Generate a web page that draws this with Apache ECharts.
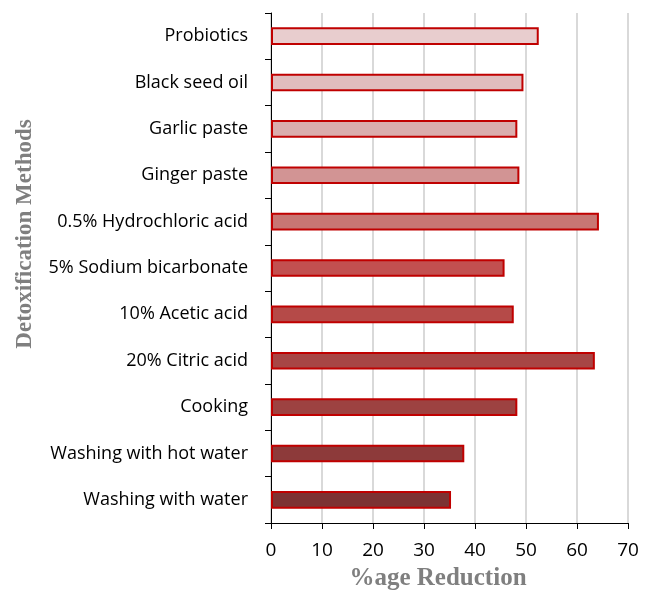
<!DOCTYPE html>
<html>
<head>
<meta charset="utf-8">
<script src="https://cdn.jsdelivr.net/npm/echarts@6/dist/echarts.min.js"></script>
<style>
  html, body { margin: 0; padding: 0; background: #fff; }
  #chart { width: 648px; height: 596px; }
</style>
</head>
<body>
<div id="chart"></div>
<script>
// categories listed bottom -> top (category axis starts at the bottom)
var methods = ['Washing with water', 'Washing with hot water', 'Cooking', '20% Citric acid',
  '10% Acetic acid', '5% Sodium bicarbonate', '0.5% Hydrochloric acid', 'Ginger paste',
  'Garlic paste', 'Black seed oil', 'Probiotics']
var reduction = [35.3, 37.9, 48.3, 63.5, 47.6, 45.8, 64.3, 48.7, 48.3, 49.5, 52.5]
var barColors = ['#7C3233', '#8D3A3A', '#9D4241', '#A74645', '#B54A48', '#C25050',
  '#C87673', '#D29494', '#DAADAD', '#E0BDBE', '#E8CDCE']
var xTicks = [0, 10, 20, 30, 40, 50, 60, 70]

var titleFont = { fontFamily: 'Liberation Serif', fontWeight: 'bold', fill: '#7F7F7F' }

var chart = echarts.init(document.getElementById('chart'))
var option = {
  animation: false,
  grid: { left: 271, right: 20, top: 13, bottom: 73 },
  graphic: [
    {
      type: 'text', x: 438, y: 579,
      style: Object.assign({ text: '%age Reduction', fontSize: 25, align: 'center', verticalAlign: 'middle' }, titleFont)
    },
    {
      type: 'text', x: 25, y: 234, rotation: Math.PI / 2,
      style: Object.assign({ text: 'Detoxification Methods', fontSize: 23, align: 'center', verticalAlign: 'middle' }, titleFont)
    }
  ],
  xAxis: {
    type: 'value',
    min: xTicks[0],
    max: xTicks[xTicks.length - 1],
    interval: 10,
    axisLine: { show: true, lineStyle: { color: '#000', width: 1 } },
    axisTick: { show: true, length: 6, lineStyle: { color: '#000' } },
    axisLabel: { color: '#000', fontSize: 19, fontFamily: 'Open Sans', margin: 18 },
    splitLine: { show: true, lineStyle: { color: '#D9D9D9', width: 2 } }
  },
  yAxis: {
    type: 'category',
    data: methods,
    axisLine: { show: true, lineStyle: { color: '#000', width: 1 } },
    axisTick: { show: true, length: 6, lineStyle: { color: '#000' } },
    axisLabel: { color: '#000', fontSize: 18, fontFamily: 'Open Sans', margin: 23 }
  },
  series: [{
    type: 'bar',
    data: reduction.map(function (v, i) {
      return { value: v, itemStyle: { color: barColors[i] } }
    }),
    barWidth: '38%',
    itemStyle: { borderColor: '#C00000', borderWidth: 2 }
  }]
}
chart.setOption(option)
window.addEventListener('resize', function () { chart.resize() })
</script>
</body>
</html>
